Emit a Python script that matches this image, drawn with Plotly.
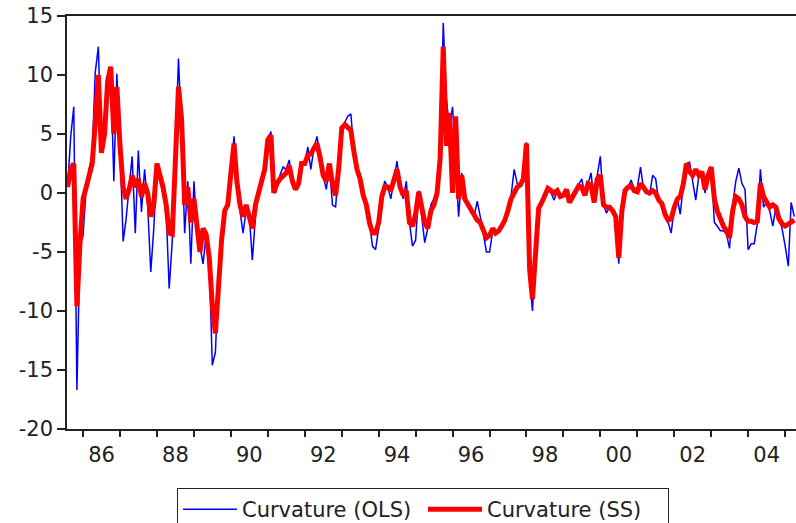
import pandas as pd
import plotly.graph_objects as go

# Monthly observations starting Aug 1985
start = "1985-08-01"

curv_ss = [
    # 1985-08 .. 1988-01
    0.5, 2.0, 2.5, -9.6, -4.3, -0.5, 0.5, 1.7, 2.5, 5.9,
    10.0, 3.4, 5.0, 9.5, 10.7, 5.0, 9.0, 4.0, 0.5, -0.5,
    0.3, 1.5, 0.5, 1.2, -0.3, 0.8, 0.0, -2.0, -1.0, 2.5,
    # 1988-02 ..
    1.5, 0.5, -1.0, -3.4, -3.5, 3.5, 9.0, 6.2, -1.0, 0.5,
    -2.5, -0.5, -2.5, -5.0, -3.0, -3.5, -5.5, -9.5, -11.9, -7.0,
    -4.0, -1.5, -1.0, 1.7, 4.2, 1.0, -1.0, -2.0, -1.0,
    # 1990-07 ..
    -2.0, -3.0, -1.0, 0.0, 0.8, 2.0, 4.5, 4.9, 0.0, 0.8,
    1.2, 1.5, 1.7, 2.3, 1.0, 0.3, 0.8, 2.5, 2.5, 3.2,
    3.3, 3.8, 4.2, 3.0, 1.5, 1.0, 2.5, 0.8, -0.2,
    # 1992-12 ..
    2.0, 5.5, 5.8, 5.5, 5.3, 3.5, 2.0, 1.2, -0.2, -1.0,
    -2.5, -3.4, -3.4, -2.5, -0.3, 0.5, 0.5, 0.2, 1.2, 2.0,
    0.5, -0.2, 0.2, -2.5, -2.8, -1.8, 0.1, -1.0, -2.5,
    # 1995-05 ..
    -3.0, -1.5, -1.0, 0.0, 3.0, 12.4, 4.0, 6.8, 0.0, 6.5,
    -0.5, 1.5, -0.5, -1.0, -1.5, -2.0, -2.3, -2.5, -3.3, -3.8,
    -3.6, -3.0, -3.4, -3.2, -2.8, -2.3, -1.5, -0.5, 0.0,
    # 1997-10 ..
    0.5, 0.7, 1.2, 4.2, -6.5, -9.0, -4.5, -1.3, -0.8, -0.3,
    0.4, 0.2, 0.0, 0.2, -0.3, -0.2, 0.3, -0.8, -0.3, 0.2,
    0.6, 0.5, -0.2, 0.8, 0.7, -0.8, 1.2, 1.5, -1.0, -1.2,
    # 2000-04 ..
    -1.2, -1.5, -2.0, -5.5, -1.5, 0.2, 0.5, 0.6, 0.2, 0.1,
    0.8, 0.5, 0.1, 0.0, 0.2, 0.0, -0.6, -0.9, -1.8, -2.3,
    -2.2, -1.2, -0.5, -0.3, 0.8, 2.5, 1.8, 1.5, 2.0,
    # 2002-09 ..
    1.5, 1.8, 0.3, 1.5, 2.2, -0.5, -1.5, -2.3, -2.8, -3.2,
    -3.8, -1.5, -0.3, -0.5, -1.0, -2.0, -2.4, -2.4, -2.5, -2.4,
    0.8, -0.3, -0.8, -1.2, -1.0, -1.2, -2.2, -2.6, -2.8, -2.6,
    -2.4, -2.3,
]

curv_ols = [
    0.5, 4.8, 7.3, -16.7, -4.5, -3.6, 0.5, 2.0, 3.2, 10.2,
    12.4, 3.5, 4.5, 9.0, 10.5, 1.0, 10.1, 4.0, -4.1, -2.3,
    0.5, 3.1, -3.4, 3.6, -1.6, 2.0, -1.0, -6.7, -3.0, 2.5,
    1.0, 0.0, -1.5, -8.1, -4.0, 3.0, 11.4, 5.0, -3.4, 1.0,
    -6.0, 1.0, -3.6, -4.5, -6.0, -3.5, -5.5, -14.6, -13.5, -7.0,
    -4.5, -1.7, -1.2, 1.5, 4.8, 1.5, -1.5, -3.4, -1.5,
    -1.7, -5.7, -2.0, 0.0, 1.0, 2.0, 4.5, 5.2, 0.0, 0.5,
    1.5, 2.2, 2.0, 2.8, 0.8, 0.3, 0.5, 2.5, 2.5, 3.9,
    2.0, 3.8, 4.8, 3.0, 1.5, 0.3, 2.3, -1.0, -1.2,
    2.0, 5.0, 6.0, 6.5, 6.7, 3.5, 1.8, 1.2, -0.3, -1.0,
    -2.5, -4.5, -4.8, -3.0, -0.3, 1.0, 0.5, -0.5, 1.2, 2.7,
    0.5, -0.5, 1.0, -2.5, -4.5, -4.0, 0.2, -2.0, -4.2,
    -3.0, -1.0, -0.5, 0.2, 2.2, 14.4, 8.0, 5.5, 7.3, 3.0,
    -2.0, 1.7, -0.5, -1.0, -1.2, -2.0, -0.7, -2.0, -3.5, -5.0,
    -5.0, -3.2, -3.4, -3.2, -2.8, -2.3, -1.5, -0.3, 2.0,
    0.8, 0.7, 1.3, 4.3, -7.0, -10.0, -4.0, -1.0, -0.8, -0.3,
    0.4, 0.0, -0.6, 0.2, -0.3, -0.2, 0.3, -0.8, -0.3, 0.2,
    0.6, 1.2, -0.2, 0.8, 1.7, -0.8, 1.5, 3.1, -1.0, -1.7,
    -1.2, -1.5, -2.2, -6.0, -1.5, 0.4, 0.5, 1.1, 0.2, 0.5,
    2.2, 0.5, 0.1, -0.2, 1.5, 1.2, -0.8, -0.9, -2.0, -2.5,
    -3.4, -1.2, -0.5, -1.8, 0.8, 2.5, 2.6, 1.0, -0.6,
    1.5, 1.8, 0.0, 1.5, 2.2, -2.5, -2.8, -3.2, -3.2, -3.5,
    -4.7, -1.0, 1.0, 2.1, 0.8, 0.3, -4.8, -4.3, -4.3, -2.6,
    2.0, -1.2, -0.8, -1.5, -2.8, -1.2, -2.0, -3.0, -4.5, -6.2,
    -0.8, -2.0,
]

year_labels = ["86", "88", "90", "92", "94", "96", "98", "00", "02", "04"]
label_years = [1986, 1988, 1990, 1992, 1994, 1996, 1998, 2000, 2002, 2004]
tick_years = list(range(1986, 2006))
y_ticks = [-20, -15, -10, -5, 0, 5, 10, 15]

dates_ss = pd.date_range(start, periods=len(curv_ss), freq="MS")
dates_ols = pd.date_range(start, periods=len(curv_ols), freq="MS")

FONT = "DejaVu Sans"
AX = "#222222"
TXT = "#222222"
FS_TICK = 21
FS_LEG = 21

fig = go.Figure()
fig.add_trace(go.Scatter(x=dates_ols, y=curv_ols, mode="lines",
                         name="Curvature (OLS)",
                         line=dict(color="#0000FF", width=1.5)))
fig.add_trace(go.Scatter(x=dates_ss, y=curv_ss, mode="lines",
                         name="Curvature (SS)",
                         line=dict(color="#FF0000", width=5)))

fig.update_layout(
    width=796, height=523,
    margin=dict(l=67, r=0, t=16, b=94, autoexpand=False),
    paper_bgcolor="white", plot_bgcolor="white",
    showlegend=True,
    legend=dict(orientation="h", x=0.1509, xanchor="left",
                y=-0.1429, yanchor="top",
                bordercolor="#222222", borderwidth=1,
                font=dict(family=FONT, size=FS_LEG, color=TXT),
                itemwidth=54, entrywidth=176, tracegroupgap=0),
    font=dict(family=FONT, size=FS_TICK, color=TXT),
)

fig.update_xaxes(
    type="date",
    range=["1985-07-26", "2005-04-18"],
    tickmode="array",
    tickvals=[f"{y}-07-02" for y in label_years],
    ticktext=year_labels,
    ticks="outside", ticklen=6, tickcolor="rgba(0,0,0,0)",
    tickfont=dict(family=FONT, size=FS_TICK, color=TXT),
    ticklabeloverflow="allow",
    showgrid=False, zeroline=False, automargin=False,
    showline=True, linecolor=AX, linewidth=1.5, mirror=True,
    minor=dict(tickmode="array",
               tickvals=[f"{y}-01-01" for y in tick_years],
               ticks="outside", ticklen=6, tickwidth=1.5,
               tickcolor=AX, showgrid=False),
)
fig.update_yaxes(
    range=[-20, 15],
    tickmode="array", tickvals=y_ticks,
    ticktext=[str(v) for v in y_ticks],
    ticks="outside", ticklen=8, tickwidth=1.5, tickcolor=AX,
    tickfont=dict(family=FONT, size=FS_TICK, color=TXT),
    ticklabeloverflow="allow",
    showgrid=False, zeroline=False, automargin=False,
    showline=True, linecolor=AX, linewidth=1.5, mirror=False,
)

# remove the browser's default 8px body margin so the figure fills the window
fig.write_html("out.html",
               config={"displayModeBar": False},
               post_script="document.body.style.margin='0';"
                           "document.body.style.overflow='hidden';")
